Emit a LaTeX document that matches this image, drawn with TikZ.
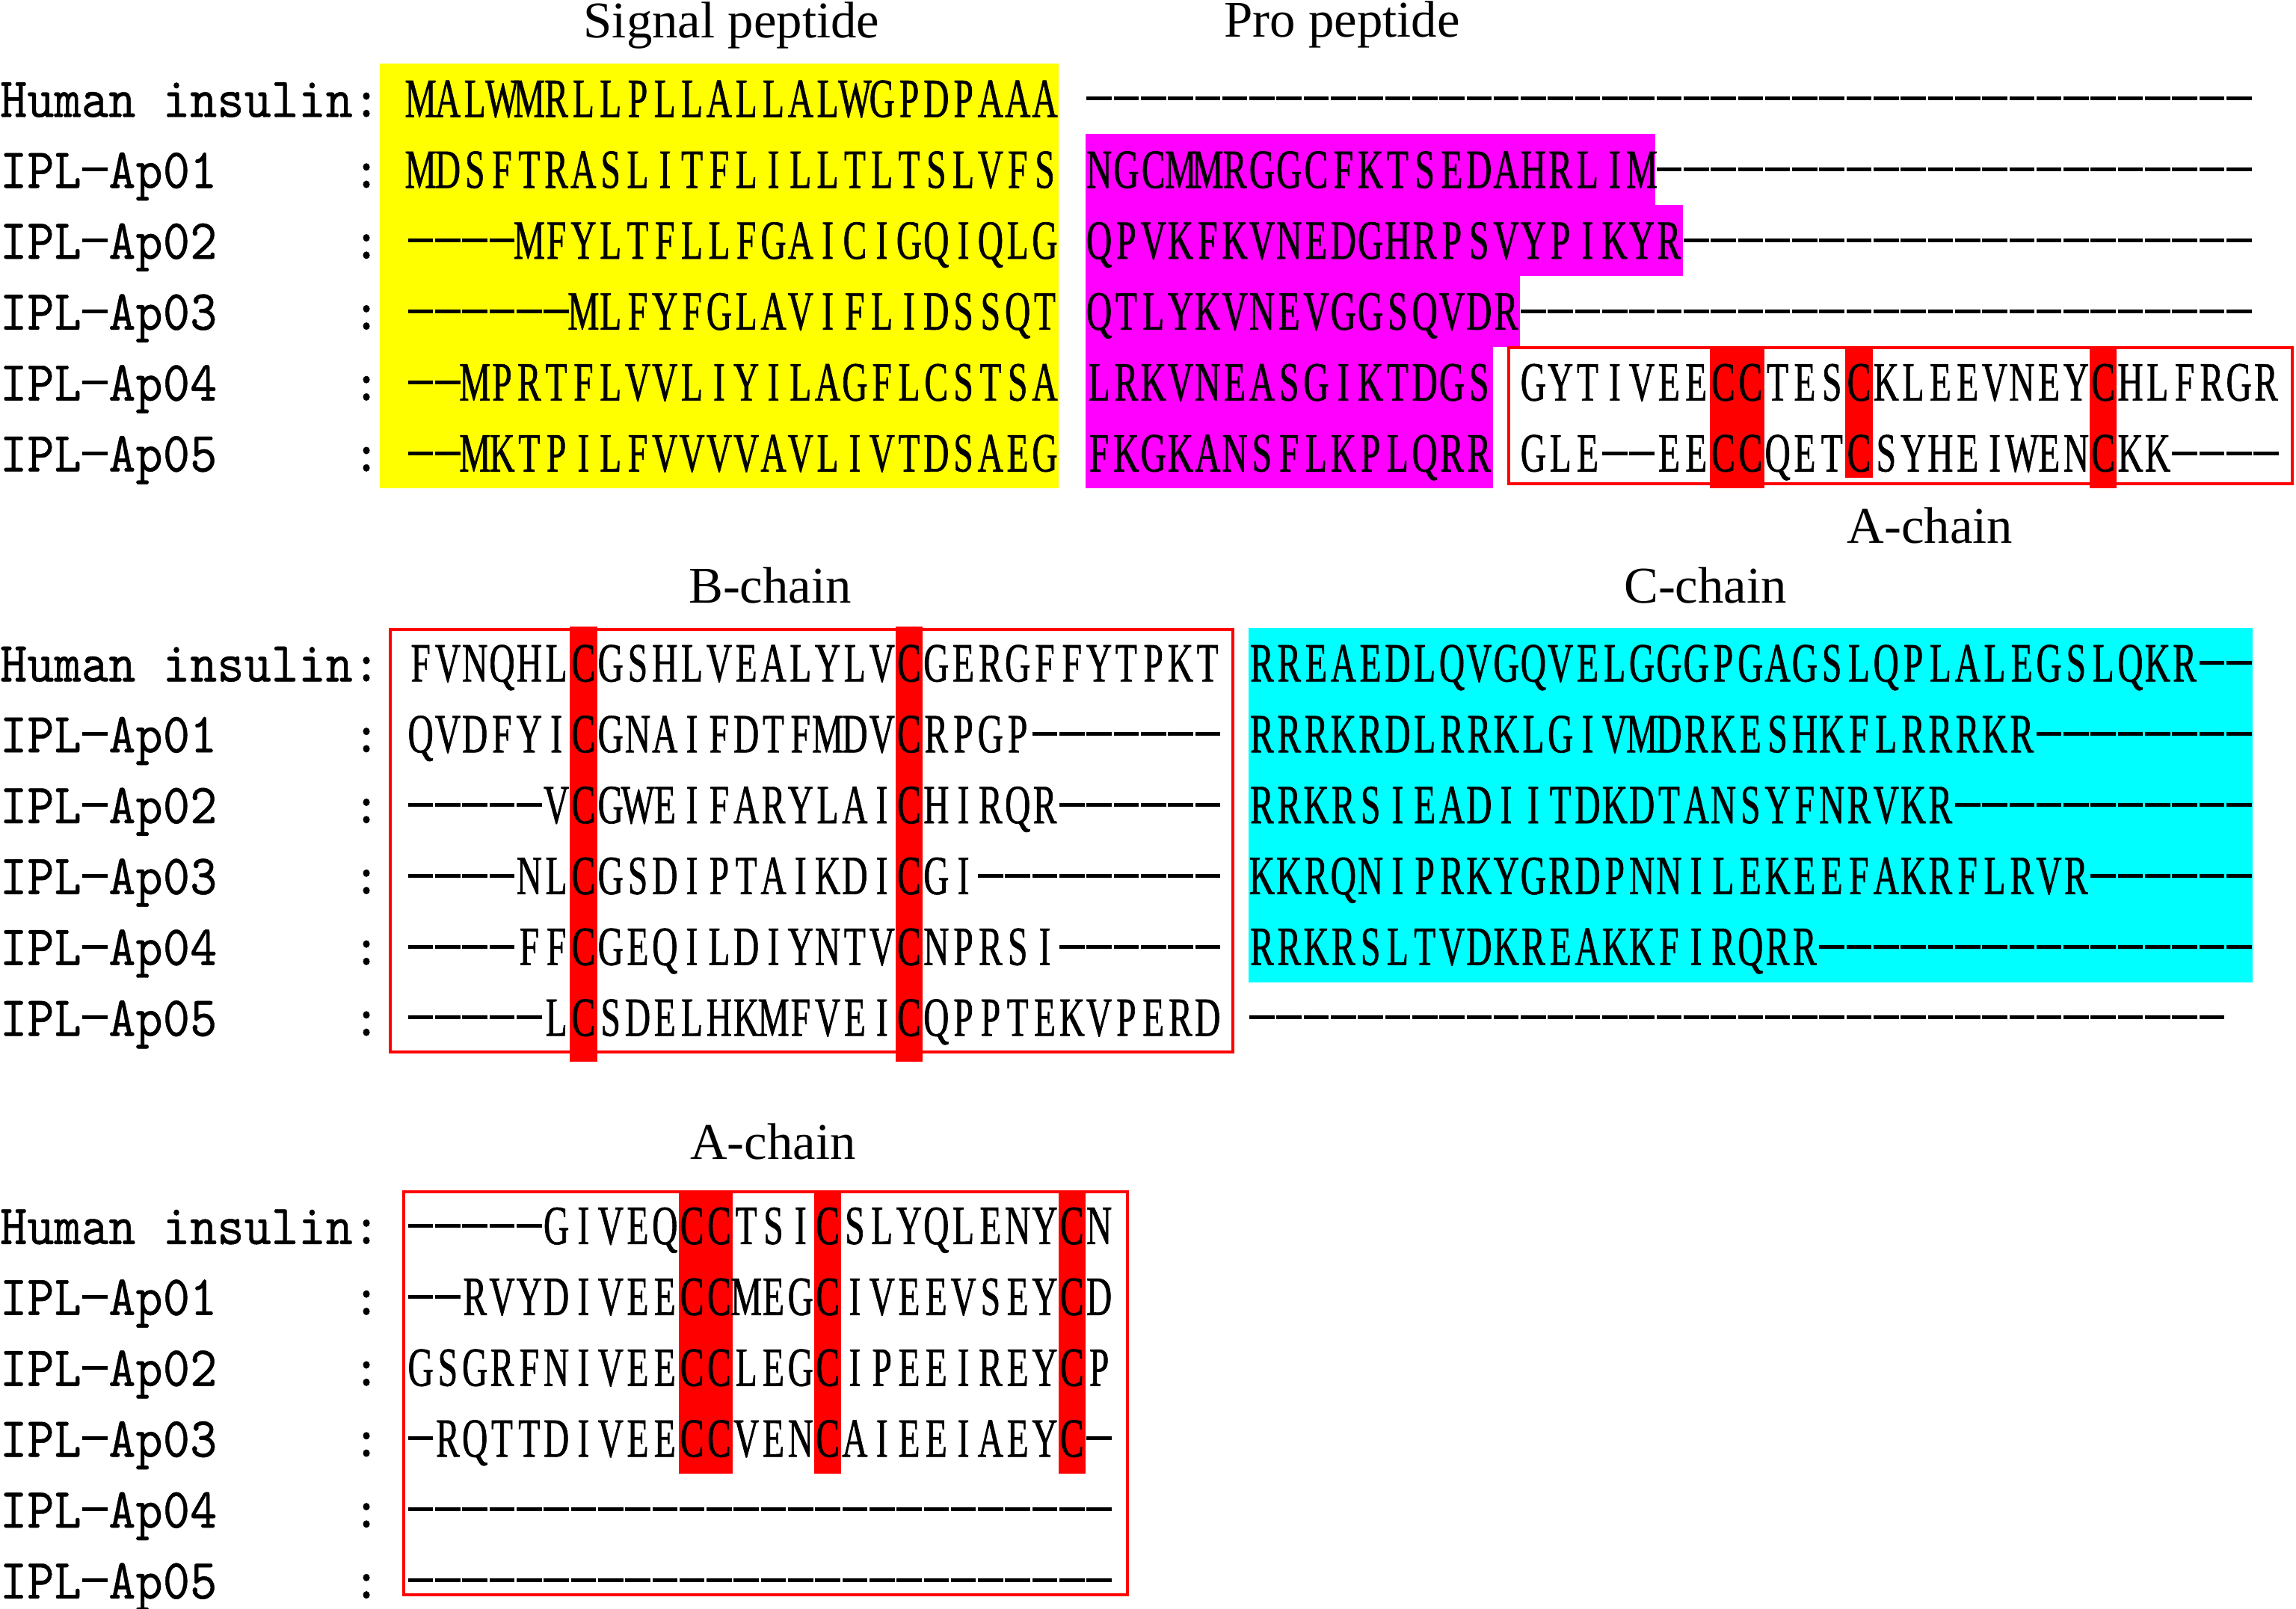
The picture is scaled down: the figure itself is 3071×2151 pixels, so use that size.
\documentclass[tikz,border=0pt]{standalone}
\usepackage{fontspec}
\setmainfont{Liberation Serif}
\newfontfamily\seqfont[FakeStretch=0.64,FakeBold=0.8]{Liberation Serif}
\newfontfamily\labfont[FakeStretch=0.9,FakeBold=0.6]{lmmono10-regular.otf}
\definecolor{pyel}{RGB}{255,255,0}
\definecolor{pmag}{RGB}{255,0,255}
\definecolor{pcyan}{RGB}{0,255,255}
\definecolor{pred}{RGB}{255,0,0}
\newlength\cw \setlength\cw{9.075pt}
\newcount\dcnt
\newcommand\seqdash{\hbox to\cw{\hss\rule[5.5pt]{8.4pt}{1.25pt}\hss}}
\newcommand\dashrun[1]{\dcnt=#1\relax\loop\ifnum\dcnt>0 \seqdash\advance\dcnt-1 \repeat}
\makeatletter
\def\seqstr#1{\seq@loop#1\relax}
\def\seq@loop#1{\ifx#1\relax\else\seq@char#1\expandafter\seq@loop\fi}
\def\seq@char#1{\ifx#1-\seqdash\else\ifx#1*\hbox to\cw{}\else\hbox to\cw{\hss#1\hss}\fi\fi}
\makeatother
\begin{document}
\begin{tikzpicture}[x=0.25pt,y=-0.25pt,
 seqtxt/.style={font=\seqfont\fontsize{18.5pt}{20pt}\selectfont, inner sep=0pt, outer sep=0pt, anchor=base west},
 labtxt/.style={font=\labfont\fontsize{19pt}{20pt}\selectfont, inner sep=0pt, outer sep=0pt, anchor=base west},
 ttl/.style={font=\fontsize{17.2pt}{20pt}\selectfont, inner sep=0pt, outer sep=0pt, anchor=base},
 redbox/.style={draw=pred, line width=1pt},
 redbar/.style={fill=pred}]
\useasboundingbox (0,0) rectangle (3071,2151);
% ---------- block 1 backgrounds
\fill[pyel] (508,84.6) rectangle (1416,653.4);
\fill[pmag] (1452,179.4) rectangle (2214.3,274.2);
\fill[pmag] (1452,274.2) rectangle (2250.6,369);
\fill[pmag] (1452,369) rectangle (2032.8,463.8);
\fill[pmag] (1452,463.8) rectangle (1996.5,653.4);
\fill[redbar] (2286.9,463.8) rectangle (2359.5,653.4);
\fill[redbar] (2468.4,463.8) rectangle (2504.7,639);
\fill[redbar] (2795.1,463.8) rectangle (2831.4,653.4);
\draw[redbox] (2018,465) rectangle (3066,647);
% ---------- block 2 backgrounds
\fill[pcyan] (1669.8,839.5) rectangle (3012.9,1313.5);
\fill[redbar] (762.3,838) rectangle (798.6,1420);
\fill[redbar] (1197.9,838) rectangle (1234.2,1420);
\draw[redbox] (522,842) rectangle (1649,1407);
% ---------- block 3 backgrounds
\fill[redbar] (907.5,1592) rectangle (980.1,1971);
\fill[redbar] (1089,1592) rectangle (1125.3,1971);
\fill[redbar] (1415.7,1592) rectangle (1452,1971);
\draw[redbox] (540,1594) rectangle (1508,2133);
% ---------- titles
\node[ttl] (tsig) at (978.5,51) {Signal peptide};
\node[ttl] (tpro) at (1795,50) {Pro peptide};
\node[ttl] (tach1) at (2581.5,726) {A-chain};
\node[ttl] (tbch) at (1030,806) {B-chain};
\node[ttl] (tcch) at (2281,806) {C-chain};
\node[ttl] (tach2) at (1034,1550) {A-chain};
% ---------- block 1 rows
\node[labtxt] (l1h) at (0,156.5) {\seqstr{Human*insulin:}};
\node[labtxt] (l11) at (0,251.3) {\seqstr{IPL-Ap01}};
\node[labtxt] (l12) at (0,346.1) {\seqstr{IPL-Ap02}};
\node[labtxt] (l13) at (0,440.9) {\seqstr{IPL-Ap03}};
\node[labtxt] (l14) at (0,535.7) {\seqstr{IPL-Ap04}};
\node[labtxt] (l15) at (0,630.5) {\seqstr{IPL-Ap05}};
\node[labtxt] (c11) at (471.9,251.3) {\seqstr{:}};
\node[labtxt] (c12) at (471.9,346.1) {\seqstr{:}};
\node[labtxt] (c13) at (471.9,440.9) {\seqstr{:}};
\node[labtxt] (c14) at (471.9,535.7) {\seqstr{:}};
\node[labtxt] (c15) at (471.9,630.5) {\seqstr{:}};
\node[seqtxt] (s1h) at (544.5,156.5) {\seqstr{MALWMRLLPLLALLALWGPDPAAA}};
\node[seqtxt] (s11) at (544.5,251.3) {\seqstr{MDSFTRASLITFLILLTLTSLVFS}};
\node[seqtxt] (s12) at (544.5,346.1) {\dashrun{4}\seqstr{MFYLTFLLFGAICIGQIQLG}};
\node[seqtxt] (s13) at (544.5,440.9) {\dashrun{6}\seqstr{MLFYFGLAVIFLIDSSQT}};
\node[seqtxt] (s14) at (544.5,535.7) {\dashrun{2}\seqstr{MPRTFLVVLIYILAGFLCSTSA}};
\node[seqtxt] (s15) at (544.5,630.5) {\dashrun{2}\seqstr{MKTPILFVVVVAVLIVTDSAEG}};
\node[seqtxt] (p1h) at (1452,156.5) {\dashrun{43}};
\node[seqtxt] (p11) at (1452,251.3) {\seqstr{NGCMMRGGCFKTSEDAHRLIM}\dashrun{22}};
\node[seqtxt] (p12) at (1452,346.1) {\seqstr{QPVKFKVNEDGHRPSVYPIKYR}\dashrun{21}};
\node[seqtxt] (p13) at (1452,440.9) {\seqstr{QTLYKVNEVGGSQVDR}\dashrun{27}};
\node[seqtxt] (p14) at (1452,535.7) {\seqstr{LRKVNEASGIKTDGS*GYTIVEECCTESCKLEEVNEYCHLFRGR}};
\node[seqtxt] (p15) at (1452,630.5) {\seqstr{FKGKANSFLKPLQRR*GLE--EECCQETCSYHEIWENCKK----}};
% ---------- block 2 rows
\node[labtxt] (l2h) at (0,911.4) {\seqstr{Human*insulin:}};
\node[labtxt] (l21) at (0,1006.2) {\seqstr{IPL-Ap01}};
\node[labtxt] (l22) at (0,1101) {\seqstr{IPL-Ap02}};
\node[labtxt] (l23) at (0,1195.8) {\seqstr{IPL-Ap03}};
\node[labtxt] (l24) at (0,1290.6) {\seqstr{IPL-Ap04}};
\node[labtxt] (l25) at (0,1385.4) {\seqstr{IPL-Ap05}};
\node[labtxt] (c21) at (471.9,1006.2) {\seqstr{:}};
\node[labtxt] (c22) at (471.9,1101) {\seqstr{:}};
\node[labtxt] (c23) at (471.9,1195.8) {\seqstr{:}};
\node[labtxt] (c24) at (471.9,1290.6) {\seqstr{:}};
\node[labtxt] (c25) at (471.9,1385.4) {\seqstr{:}};
\node[seqtxt] (b2h) at (544.5,911.4) {\seqstr{FVNQHLCGSHLVEALYLVCGERGFFYTPKT}};
\node[seqtxt] (b21) at (544.5,1006.2) {\seqstr{QVDFYICGNAIFDTFMDVCRPGP}\dashrun{7}};
\node[seqtxt] (b22) at (544.5,1101) {\dashrun{5}\seqstr{VCGWEIFARYLAICHIRQR}\dashrun{6}};
\node[seqtxt] (b23) at (544.5,1195.8) {\dashrun{4}\seqstr{NLCGSDIPTAIKDICGI}\dashrun{9}};
\node[seqtxt] (b24) at (544.5,1290.6) {\dashrun{4}\seqstr{FFCGEQILDIYNTVCNPRSI}\dashrun{6}};
\node[seqtxt] (b25) at (544.5,1385.4) {\dashrun{5}\seqstr{LCSDELHKMFVEICQPPTEKVPERD}};
\node[seqtxt] (k2h) at (1669.8,911.4) {\seqstr{RREAEDLQVGQVELGGGPGAGSLQPLALEGSLQKR}\dashrun{2}};
\node[seqtxt] (k21) at (1669.8,1006.2) {\seqstr{RRRKRDLRRKLGIVMDRKESHKFLRRRKR}\dashrun{8}};
\node[seqtxt] (k22) at (1669.8,1101) {\seqstr{RRKRSIEADIITDKDTANSYFNRVKR}\dashrun{11}};
\node[seqtxt] (k23) at (1669.8,1195.8) {\seqstr{KKRQNIPRKYGRDPNNILEKEEFAKRFLRVR}\dashrun{6}};
\node[seqtxt] (k24) at (1669.8,1290.6) {\seqstr{RRKRSLTVDKREAKKFIRQRR}\dashrun{16}};
\node[seqtxt] (k25) at (1669.8,1385.4) {\dashrun{36}};
% ---------- block 3 rows
\node[labtxt] (l3h) at (0,1663.9) {\seqstr{Human*insulin:}};
\node[labtxt] (l31) at (0,1758.7) {\seqstr{IPL-Ap01}};
\node[labtxt] (l32) at (0,1853.5) {\seqstr{IPL-Ap02}};
\node[labtxt] (l33) at (0,1948.3) {\seqstr{IPL-Ap03}};
\node[labtxt] (l34) at (0,2043.1) {\seqstr{IPL-Ap04}};
\node[labtxt] (l35) at (0,2137.9) {\seqstr{IPL-Ap05}};
\node[labtxt] (c31) at (471.9,1758.7) {\seqstr{:}};
\node[labtxt] (c32) at (471.9,1853.5) {\seqstr{:}};
\node[labtxt] (c33) at (471.9,1948.3) {\seqstr{:}};
\node[labtxt] (c34) at (471.9,2043.1) {\seqstr{:}};
\node[labtxt] (c35) at (471.9,2137.9) {\seqstr{:}};
\node[seqtxt] (a3h) at (544.5,1663.9) {\dashrun{5}\seqstr{GIVEQCCTSICSLYQLENYCN}};
\node[seqtxt] (a31) at (544.5,1758.7) {\dashrun{2}\seqstr{RVYDIVEECCMEGCIVEEVSEYCD}};
\node[seqtxt] (a32) at (544.5,1853.5) {\seqstr{GSGRFNIVEECCLEGCIPEEIREYCP}};
\node[seqtxt] (a33) at (544.5,1948.3) {\seqstr{-RQTTDIVEECCVENCAIEEIAEYC-}};
\node[seqtxt] (a34) at (544.5,2043.1) {\dashrun{26}};
\node[seqtxt] (a35) at (544.5,2137.9) {\dashrun{26}};
\end{tikzpicture}
\end{document}
